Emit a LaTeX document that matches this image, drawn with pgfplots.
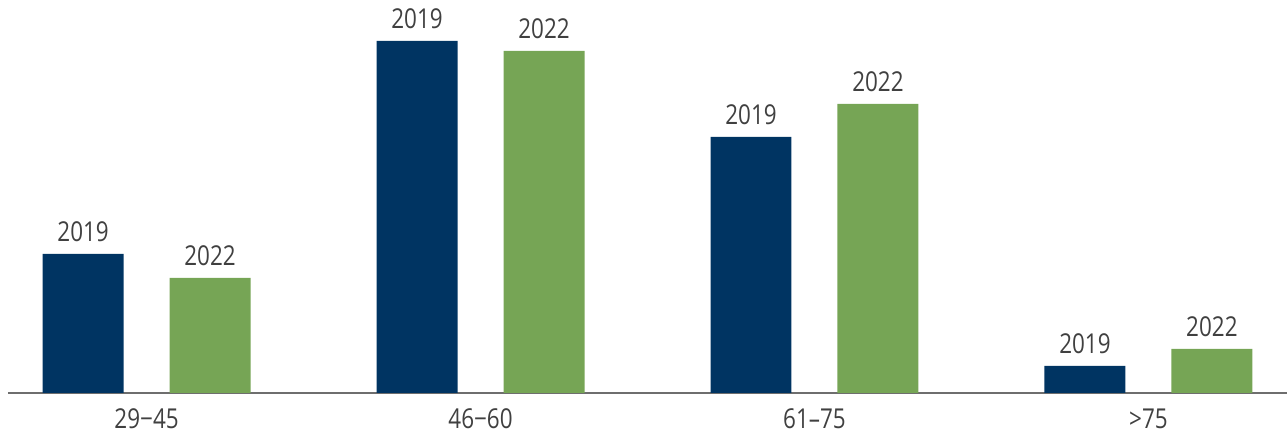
\documentclass[border=0pt]{standalone}
\usepackage{fontspec}
\setmainfont{Open Sans}[FakeStretch=0.82]
\usepackage{pgfplots}
\pgfplotsset{compat=1.18}
\definecolor{navy}{RGB}{0,52,98}
\definecolor{leaf}{RGB}{118,165,85}
\definecolor{txt}{RGB}{64,64,64}
\definecolor{axisgray}{RGB}{110,110,110}
\begin{document}
\begin{tikzpicture}
\path[use as bounding box] (-8bp,-42bp) rectangle (1279.2bp,393bp);
\begin{axis}[
  at={(0,0)}, anchor=south west,
  scale only axis,
  width=1279.2bp, height=393bp,
  xmin=-0.415, xmax=3.415,
  ymin=0, ymax=393,
  axis x line*=bottom,
  axis y line=none,
  x axis line style={draw=axisgray, line width=1.6bp, -},
  xtick={0,1,2,3},
  xticklabels={29−45,46−60,61–75,>75},
  major tick length=0pt,
  xticklabel style={font=\fontsize{27.5}{29}\selectfont, text=txt, inner sep=0pt, anchor=north, yshift=-16bp},
  ybar, bar width=81bp,
  clip=false,
  nodes near coords style={font=\fontsize{27.5}{29}\selectfont, text=txt, anchor=south, inner sep=0pt, yshift=12bp},
]
\addplot[fill=navy, draw=none, bar shift=-63.5bp, nodes near coords={2019}]
  coordinates {(0,139) (1,352) (2,256) (3,27)};
\addplot[fill=leaf, draw=none, bar shift=63.5bp, nodes near coords={2022}]
  coordinates {(0,115) (1,342) (2,289) (3,44)};
\end{axis}
\end{tikzpicture}
\end{document}
